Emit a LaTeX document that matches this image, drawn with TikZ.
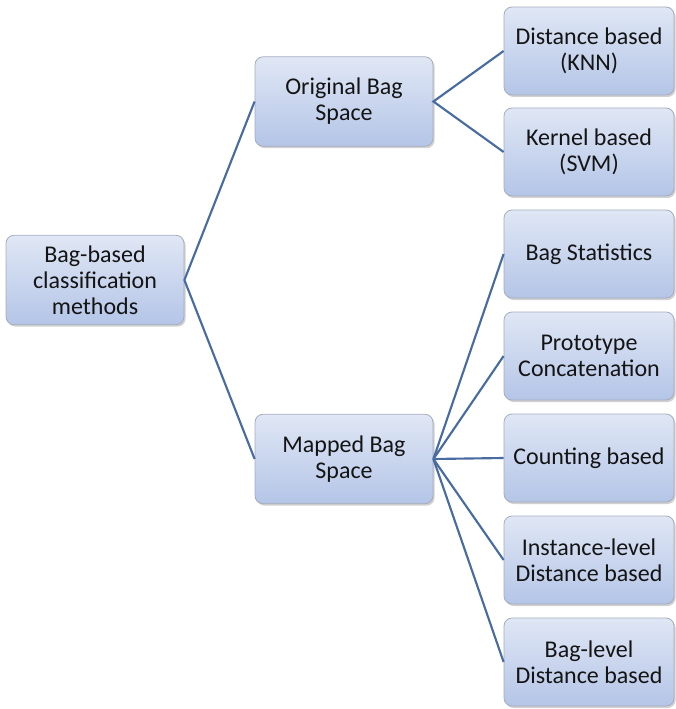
\documentclass[tikz,border=0pt]{standalone}
\usepackage{fontspec}
\setmainfont{Carlito}
\usetikzlibrary{shadows}

\definecolor{boxtop}{RGB}{224,231,245}
\definecolor{boxbot}{RGB}{180,197,231}
\definecolor{boxline}{RGB}{165,172,190}
\definecolor{linkblue}{RGB}{72,108,162}

\tikzset{
  catbox/.style={rectangle, rounded corners=6pt, draw=boxline, line width=0.6pt,
    top color=boxtop, bottom color=boxbot,
    drop shadow={shadow xshift=1.2pt, shadow yshift=-1.5pt, fill=black!40, opacity=0.45},
    align=center, inner sep=0pt, text=black!92,
    font=\fontsize{18}{19.5}\selectfont},
  leftbox/.style={catbox, minimum width=133.5pt, minimum height=67pt},
  rightbox/.style={catbox, minimum width=127.5pt, minimum height=66pt},
  link/.style={draw=linkblue, line width=1.6pt},
}

\begin{document}
\begin{tikzpicture}[x=0.75pt,y=0.75pt,yscale=-1,xscale=1]
\useasboundingbox (0,0) rectangle (675,709);

% root and the two bag spaces
\node[leftbox] (root) at (95,280) {Bag-based\\classification\\methods};
\node[leftbox] (orig) at (344,101.5) {Original Bag\\Space};
\node[leftbox] (mapped) at (344,459) {Mapped Bag\\Space};

% methods on the original bag space
\node[rightbox] (knn) at (589,51) {Distance based\\(KNN)};
\node[rightbox] (svm) at (589,152) {Kernel based\\(SVM)};

% methods on the mapped bag space
\node[rightbox] (stats) at (589,254) {Bag Statistics};
\node[rightbox] (proto) at (589,356) {Prototype\\Concatenation};
\node[rightbox] (count) at (589,458) {Counting based};
\node[rightbox] (inst) at (589,560) {Instance-level\\Distance based};
\node[rightbox] (baglvl) at (589,662) {Bag-level\\Distance based};

% connectors
\draw[link] (orig.west) -- (root.east) -- (mapped.west);
\draw[link] (knn.west) -- (orig.east) -- (svm.west);
\foreach \m in {stats,proto,count,inst,baglvl}
  \draw[link] (mapped.east) -- (\m.west);

\end{tikzpicture}
\end{document}
